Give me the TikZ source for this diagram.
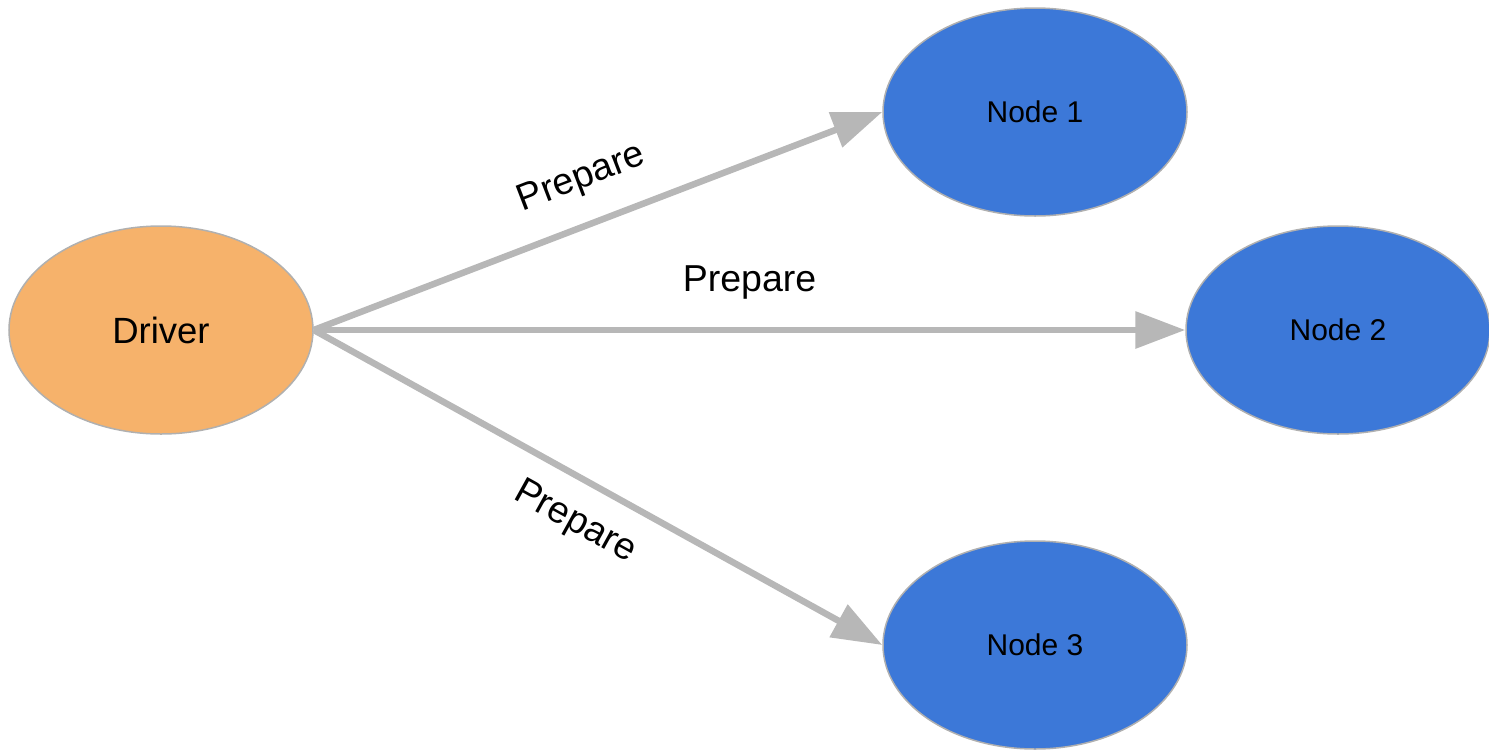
\documentclass[tikz,border=0pt]{standalone}
\usepackage{fontspec}
\setmainfont{Liberation Sans}
\usetikzlibrary{shapes.geometric,arrows.meta}
\definecolor{drvorange}{HTML}{F6B26B}
\definecolor{nodeblue}{HTML}{3C78D8}
\definecolor{linegray}{HTML}{B7B7B7}
\definecolor{bordergray}{HTML}{B0B0B0}
\tikzset{
  ell/.style={ellipse, draw=bordergray, line width=1.5pt, minimum width=304pt, minimum height=208pt, inner sep=0pt},
  drv/.style={ell, fill=drvorange, font=\fontsize{36.5}{40}\selectfont},
  wrk/.style={ell, fill=nodeblue, font=\fontsize{30}{34}\selectfont},
  conn/.style={draw=linegray, line width=6.5pt, -{Triangle[length=50pt,width=36pt]}},
  lbl/.style={font=\fontsize{37.5}{40}\selectfont, inner sep=0pt, sloped}
}
\begin{document}
\begin{tikzpicture}[x=1pt,y=-1pt]
\useasboundingbox (0,0) rectangle (1489,750);
\node[drv] (driver) at (161,330) {Driver};
\node[wrk] (n1) at (1035,112) {Node 1};
\node[wrk] (n2) at (1338,330) {Node 2};
\node[wrk] (n3) at (1035,645) {Node 3};
\draw[conn] (driver.east) -- node[lbl, pos=0.5, above=25pt] {Prepare} (n1.west);
\draw[conn] (driver.east) -- node[lbl, pos=0.5, above=27pt] {Prepare} (n2.west);
\draw[conn] (driver.east) -- node[lbl, pos=0.495, below=22pt] {Prepare} (n3.west);
\end{tikzpicture}
\end{document}
